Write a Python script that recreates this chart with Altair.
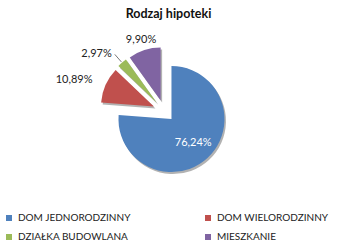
import altair as alt
import pandas as pd

categories = ["DOM JEDNORODZINNY", "DOM WIELORODZINNY", "DZIAŁKA BUDOWLANA", "MIESZKANIE"]
values = [76.24, 10.89, 2.97, 9.90]
labels = ["76,24%", "10,89%", "2,97%", "9,90%"]
colors = ["#4F81BD", "#C0504D", "#9BBB59", "#8064A2"]

df = pd.DataFrame({"cat": categories, "value": values, "label": labels, "i": list(range(len(values)))})

TOP = 24
W, H = 337, 248 - TOP
CX, CY = 164, 111 - TOP
R = 53
EXP = 11
FONT = "Lato"

base = alt.Chart(df).transform_window(
    cum="sum(value)", sort=[alt.SortField("i")]
).transform_joinaggregate(total="sum(value)").transform_calculate(
    a0="2*PI*(datum.cum-datum.value)/datum.total",
    a1="2*PI*datum.cum/datum.total",
).transform_calculate(
    mid="(datum.a0+datum.a1)/2"
).transform_calculate(
    cx=f"{CX}+{EXP}*sin(datum.mid)",
    cy=f"{CY}-{EXP}*cos(datum.mid)",
    lr=f"datum.value>50 ? 32 : {R}+11",
).transform_calculate(
    lx="datum.cx+datum.lr*sin(datum.mid)",
    ly="datum.cy-datum.lr*cos(datum.mid)",
    ex=f"datum.cx+{R+1}*sin(datum.mid)",
    ey=f"datum.cy-{R+1}*cos(datum.mid)",
)

pos = dict(
    x=alt.X("cx:Q", scale=None),
    y=alt.Y("cy:Q", scale=None),
    theta=alt.Theta("a0:Q", scale=None),
    theta2="a1:Q",
)

shadow = base.mark_arc(outerRadius=R, color="#000000", opacity=0.3, xOffset=1.5, yOffset=2).encode(**pos)

arcs = base.mark_arc(outerRadius=R).encode(
    **pos,
    color=alt.Color(
        "cat:N",
        scale=alt.Scale(domain=categories, range=colors),
        sort=categories,
        legend=alt.Legend(
            title=None,
            orient="none",
            direction="horizontal",
            legendX=4,
            legendY=189,
            columns=2,
            columnPadding=72,
            rowPadding=9,
            symbolType="square",
            symbolSize=36,
            symbolStrokeWidth=0,
            labelFont=FONT,
            labelFontSize=10,
            labelColor="#222222",
            labelOffset=4,
            labelLimit=200,
        ),
    ),
)

tpos = dict(x=alt.X("lx:Q", scale=None), y=alt.Y("ly:Q", scale=None), text="label:N")

inside = base.transform_filter("datum.value>50").mark_text(
    font=FONT, fontSize=11, color="white", align="center", baseline="middle"
).encode(**tpos)

left = base.transform_filter("datum.value<=50 && sin(datum.mid)<-0.5").mark_text(
    font=FONT, fontSize=11, color="#222222", align="right", baseline="middle", dx=-3
).encode(**tpos)

top = base.transform_filter("datum.value<=50 && sin(datum.mid)>=-0.5").mark_text(
    font=FONT, fontSize=11, color="#222222", align="center", baseline="middle"
).encode(**tpos)

leader = base.transform_filter("datum.value<5").mark_rule(color="#555555", strokeWidth=0.8).encode(
    x=alt.X("lx:Q", scale=None), y=alt.Y("ly:Q", scale=None), x2="ex:Q", y2="ey:Q"
)

chart = alt.layer(shadow, arcs, leader, inside, left, top).properties(
    width=W,
    height=H,
    padding={"top": TOP, "left": 0, "right": 0, "bottom": 0},
    autosize=alt.AutoSizeParams(type="none"),
    title=alt.TitleParams("Rodzaj hipoteki", font=FONT, fontSize=12.5, fontWeight="bold", color="#111111", anchor="middle", offset=4),
).configure_view(stroke=None).configure_axis(grid=False)

chart.save("out.html", embed_options={"renderer": "svg", "actions": False})
